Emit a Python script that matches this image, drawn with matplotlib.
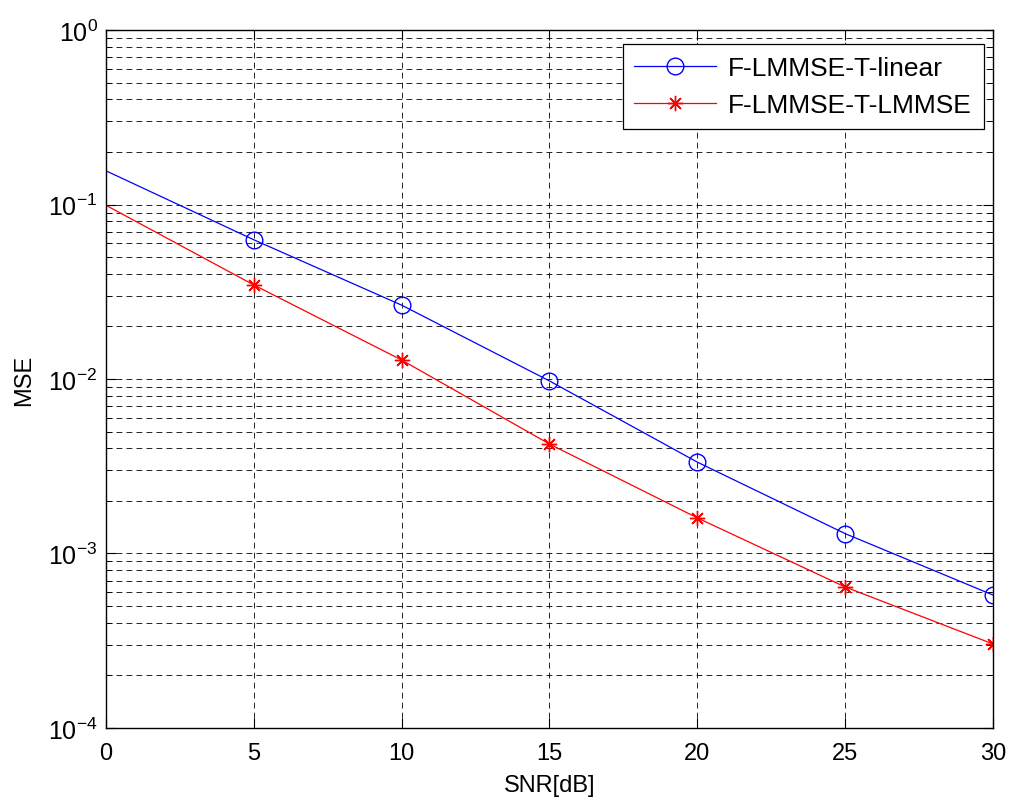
import matplotlib
matplotlib.use("Agg")
import matplotlib.pyplot as plt
from matplotlib.ticker import LogLocator, NullFormatter, FixedLocator

snr = [0, 5, 10, 15, 20, 25, 30]
mse_linear = [0.156, 0.0628, 0.0265, 0.00975, 0.00334, 0.0013, 0.000578]
mse_lmmse = [0.099, 0.0346, 0.01285, 0.00424, 0.0016, 0.000643, 0.000303]
labels = ["F-LMMSE-T-linear", "F-LMMSE-T-LMMSE"]

plt.rcParams['font.family'] = ['Liberation Sans', 'DejaVu Sans']
plt.rcParams['mathtext.fontset'] = 'custom'
plt.rcParams['mathtext.rm'] = 'Liberation Sans'
plt.rcParams['mathtext.it'] = 'Liberation Sans'
plt.rcParams['mathtext.default'] = 'regular'
plt.rcParams['axes.unicode_minus'] = False

fig = plt.figure(figsize=(10.12, 8.04), dpi=100)
ax = fig.add_axes([0.1047, 0.0933, 0.8765, 0.8681])

ax.semilogy(snr, mse_linear, color='blue', lw=0.9, marker='o', ms=12,
            mfc='none', mec='blue', mew=1.0, markevery=slice(1, None),
            label=labels[0])
ax.semilogy(snr, mse_lmmse, color='red', lw=0.9, marker=(8, 2, 0), ms=11,
            mec='red', mew=1.0, markevery=slice(1, None), label=labels[1])

ax.set_xlim(0, 30)
ax.set_ylim(1e-4, 1)
ax.xaxis.set_major_locator(FixedLocator(snr))
ax.yaxis.set_major_locator(LogLocator(base=10, numticks=10))
ax.yaxis.set_minor_locator(LogLocator(base=10, subs=range(2, 10), numticks=50))
ax.yaxis.set_minor_formatter(NullFormatter())

grid_kw = dict(color='black', linestyle=(0, (7, 5)), linewidth=0.6)
ax.grid(True, which='major', axis='both', **grid_kw)
ax.grid(True, which='minor', axis='y', **grid_kw)

ax.tick_params(which='both', direction='in', top=True, right=True)
ax.tick_params(axis='x', labelsize=17, pad=10)
ax.tick_params(axis='y', labelsize=18, pad=6)
ax.tick_params(which='major', length=7)
ax.tick_params(which='minor', length=4)
for s in ax.spines.values():
    s.set_linewidth(1.0)

ax.set_xlabel('SNR[dB]', fontsize=17, labelpad=7)
ax.set_ylabel('MSE', fontsize=17, labelpad=9)

leg = ax.legend(loc='upper right', fontsize=19, fancybox=False, framealpha=1,
                edgecolor='black', borderpad=0.45, handlelength=3.1,
                handletextpad=0.45, bbox_to_anchor=(0.9898, 0.9795),
                labelspacing=0.5, borderaxespad=0)
leg.get_frame().set_linewidth(0.9)

fig.savefig('out.png', dpi=100)
